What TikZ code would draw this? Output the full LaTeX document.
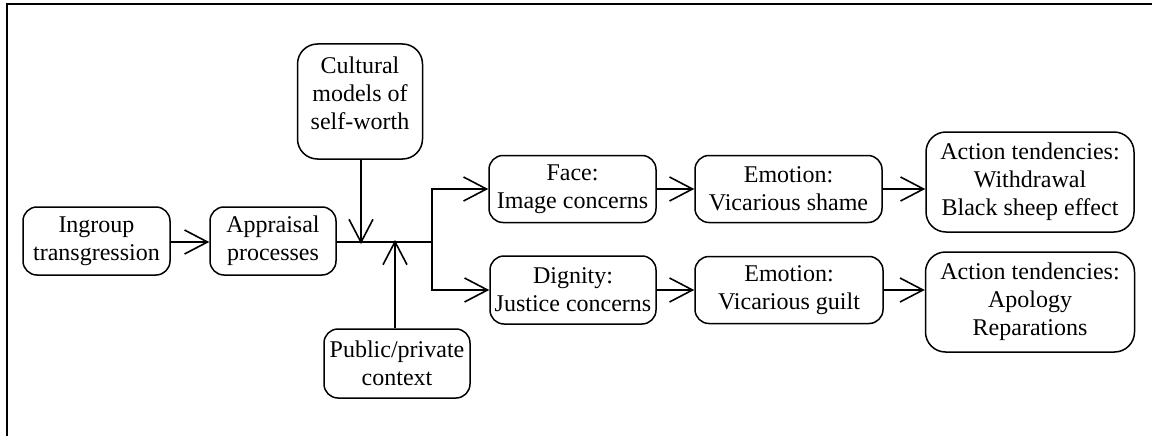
\documentclass[tikz,border=0pt]{standalone}
\usepackage{fontspec}
\setmainfont{Liberation Serif}
\usetikzlibrary{arrows.meta}
\begin{document}
\begin{tikzpicture}[x=1pt,y=-1pt,
  box/.style={draw, line width=1.5pt, rounded corners=14pt, align=center, inner sep=0pt,
    font=\fontsize{24}{28}\selectfont},
  txt/.style={align=center, inner sep=0pt, font=\fontsize{24}{28}\selectfont},
  conn/.style={line width=1.6pt},
  arr/.style={conn, -{Straight Barb[length=23pt,width=24pt,line width=1.6pt]}}]
\useasboundingbox (0,0) rectangle (1152,436);
% frame (cropped)
\draw[line width=1.2pt] (7,436) -- (7,4) -- (1152,4);
% nodes
\node[box, minimum width=147, minimum height=68] (ing) at (96.5,241) {Ingroup\\transgression};
\node[box, minimum width=126, minimum height=68] (app) at (273,241) {Appraisal\\processes};
\node[box, rounded corners=20pt, minimum width=125, minimum height=115] (cul) at (360,101.5) {};
\node[txt] (cultxt) at (360,93) {Cultural\\models of\\self-worth};
\node[box, minimum width=146, minimum height=69] (pub) at (397,363.5) {Public/private\\context};
\node[box, minimum width=167, minimum height=67] (face) at (572.5,189) {Face:\\Image concerns};
\node[box, minimum width=166, minimum height=68] (dig) at (573,290) {Dignity:\\Justice concerns};
\node[box, minimum width=187, minimum height=67] (emo1) at (788.5,189) {Emotion:\\Vicarious shame};
\node[box, minimum width=188, minimum height=67] (emo2) at (789,290) {Emotion:\\Vicarious guilt};
\node[box, rounded corners=20pt, minimum width=208, minimum height=100] (act1) at (1030,182) {Action tendencies:\\Withdrawal\\Black sheep effect};
\node[box, rounded corners=20pt, minimum width=209, minimum height=100] (act2) at (1030,302) {Action tendencies:\\Apology\\Reparations};
% junction coordinates
\coordinate (j) at (432,242);
\coordinate (c1) at (361,244);
\coordinate (c2) at (395,240);
% connectors
\draw[arr] (ing.east |- 0,242) -- (app.west |- 0,242);
\draw[conn] (app.east |- 0,242) -- (j);
\draw[arr] (cul.south -| c1) -- (c1);
\draw[arr] (pub.north -| c2) -- (c2);
\draw[arr] (j) |- (face.west);
\draw[arr] (j) |- (dig.west);
\draw[arr] (face.east) -- (emo1.west);
\draw[arr] (dig.east) -- (emo2.west);
\draw[arr] (emo1.east) -- (emo1.east -| act1.west);
\draw[arr] (emo2.east) -- (emo2.east -| act2.west);
\end{tikzpicture}
\end{document}
